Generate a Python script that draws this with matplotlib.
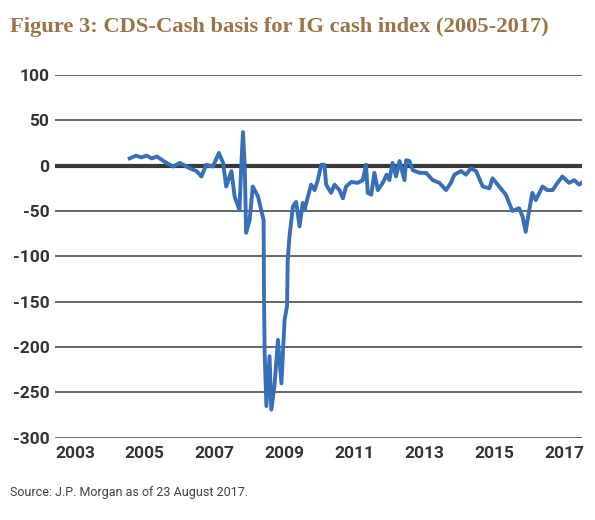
import matplotlib
matplotlib.use('Agg')
import matplotlib.pyplot as plt

# data (decimal year, basis in bp)
years = [2004.57, 2004.75, 2004.90, 2005.05, 2005.20, 2005.35, 2005.50, 2005.62, 2005.81, 2006.00,
         2006.29, 2006.48, 2006.62, 2006.76, 2006.95, 2007.12, 2007.24, 2007.33, 2007.48, 2007.57,
         2007.71, 2007.76, 2007.81, 2007.86, 2007.90, 2008.00, 2008.09, 2008.24, 2008.33, 2008.40,
         2008.41, 2008.43, 2008.48, 2008.57, 2008.62, 2008.71, 2008.81, 2008.91, 2009.00, 2009.07,
         2009.09, 2009.14, 2009.24, 2009.33, 2009.43, 2009.52, 2009.57, 2009.67, 2009.76, 2009.86,
         2009.95, 2010.05, 2010.14, 2010.19, 2010.33, 2010.43, 2010.57, 2010.67, 2010.76, 2010.91,
         2011.09, 2011.24, 2011.33, 2011.38, 2011.48, 2011.57, 2011.67, 2011.81, 2011.92, 2012.00,
         2012.09, 2012.19, 2012.29, 2012.33, 2012.43, 2012.48, 2012.57, 2012.67, 2012.86, 2013.05,
         2013.24, 2013.43, 2013.62, 2013.76, 2013.86, 2014.05, 2014.19, 2014.33, 2014.48, 2014.67,
         2014.86, 2014.95, 2015.14, 2015.33, 2015.52, 2015.71, 2015.81, 2015.90, 2016.00, 2016.09,
         2016.19, 2016.38, 2016.52, 2016.67, 2016.81, 2016.95, 2017.14, 2017.29, 2017.43, 2017.50]
basis = [8, 11, 9, 11, 8, 10, 6, 3, -1, 3,
         -3, -6, -12, 1, -1, 14, 3, -23, -6, -34,
         -49, -1, 37, -1, -74, -60, -23, -34, -49, -60,
         -140, -207, -265, -210, -269, -243, -192, -240, -170, -155,
         -104, -78, -45, -40, -67, -41, -49, -34, -21, -27,
         -16, 1, 1, -21, -30, -21, -27, -36, -23, -18,
         -19, -16, 1, -30, -32, -8, -27, -19, -10, -16,
         3, -12, 5, -1, -16, 6, 5, -5, -8, -8,
         -16, -19, -27, -19, -10, -6, -10, -3, -6, -23,
         -25, -14, -23, -32, -50, -47, -56, -73, -49, -30,
         -38, -23, -27, -27, -19, -12, -19, -16, -21, -19]

yticks = [100, 50, 0, -50, -100, -150, -200, -250, -300]
xticks = [2003, 2005, 2007, 2009, 2011, 2013, 2015, 2017]

title = 'Figure 3: CDS-Cash basis for IG cash index (2005-2017)'
source = 'Source: J.P. Morgan as of 23 August 2017.'

tick_font = ['Roboto', 'DejaVu Sans']
grid_col = '#3a3a3a'
line_col = '#3770b8'

fig = plt.figure(figsize=(5.95, 5.20), dpi=100)
ax = fig.add_axes([0.0924, 0.158, 0.8857, 0.698])

for v in yticks:
    ax.axhline(v, color=grid_col, lw=3.0 if v == 0 else 1.1, zorder=1)

ax.plot(years, basis, color=line_col, lw=2.8, solid_joinstyle='round', zorder=3)

ax.set_xlim(2002.43, 2017.51)
ax.set_ylim(-300, 100)
ax.set_yticks(yticks)
ax.set_xticks(xticks)
ax.set_yticklabels([str(v) for v in yticks])
ax.set_xticklabels([str(v) for v in xticks])
for lab in ax.get_yticklabels() + ax.get_xticklabels():
    lab.set_family(tick_font)
    lab.set_fontweight('bold')
    lab.set_fontsize(12.5)
    lab.set_color('#333333')
ax.tick_params(length=0, pad=4)
ax.tick_params(axis='x', pad=6)
for s in ax.spines.values():
    s.set_visible(False)

fig.text(0.017, 0.968, title, family=['Liberation Serif', 'DejaVu Serif'], weight='bold',
         fontsize=16.2, color='#9a7446', va='top', ha='left')
fig.text(0.017, 0.053, source, family=tick_font, fontsize=9, color='#404040',
         va='center', ha='left')

fig.savefig('out.png', dpi=100)
